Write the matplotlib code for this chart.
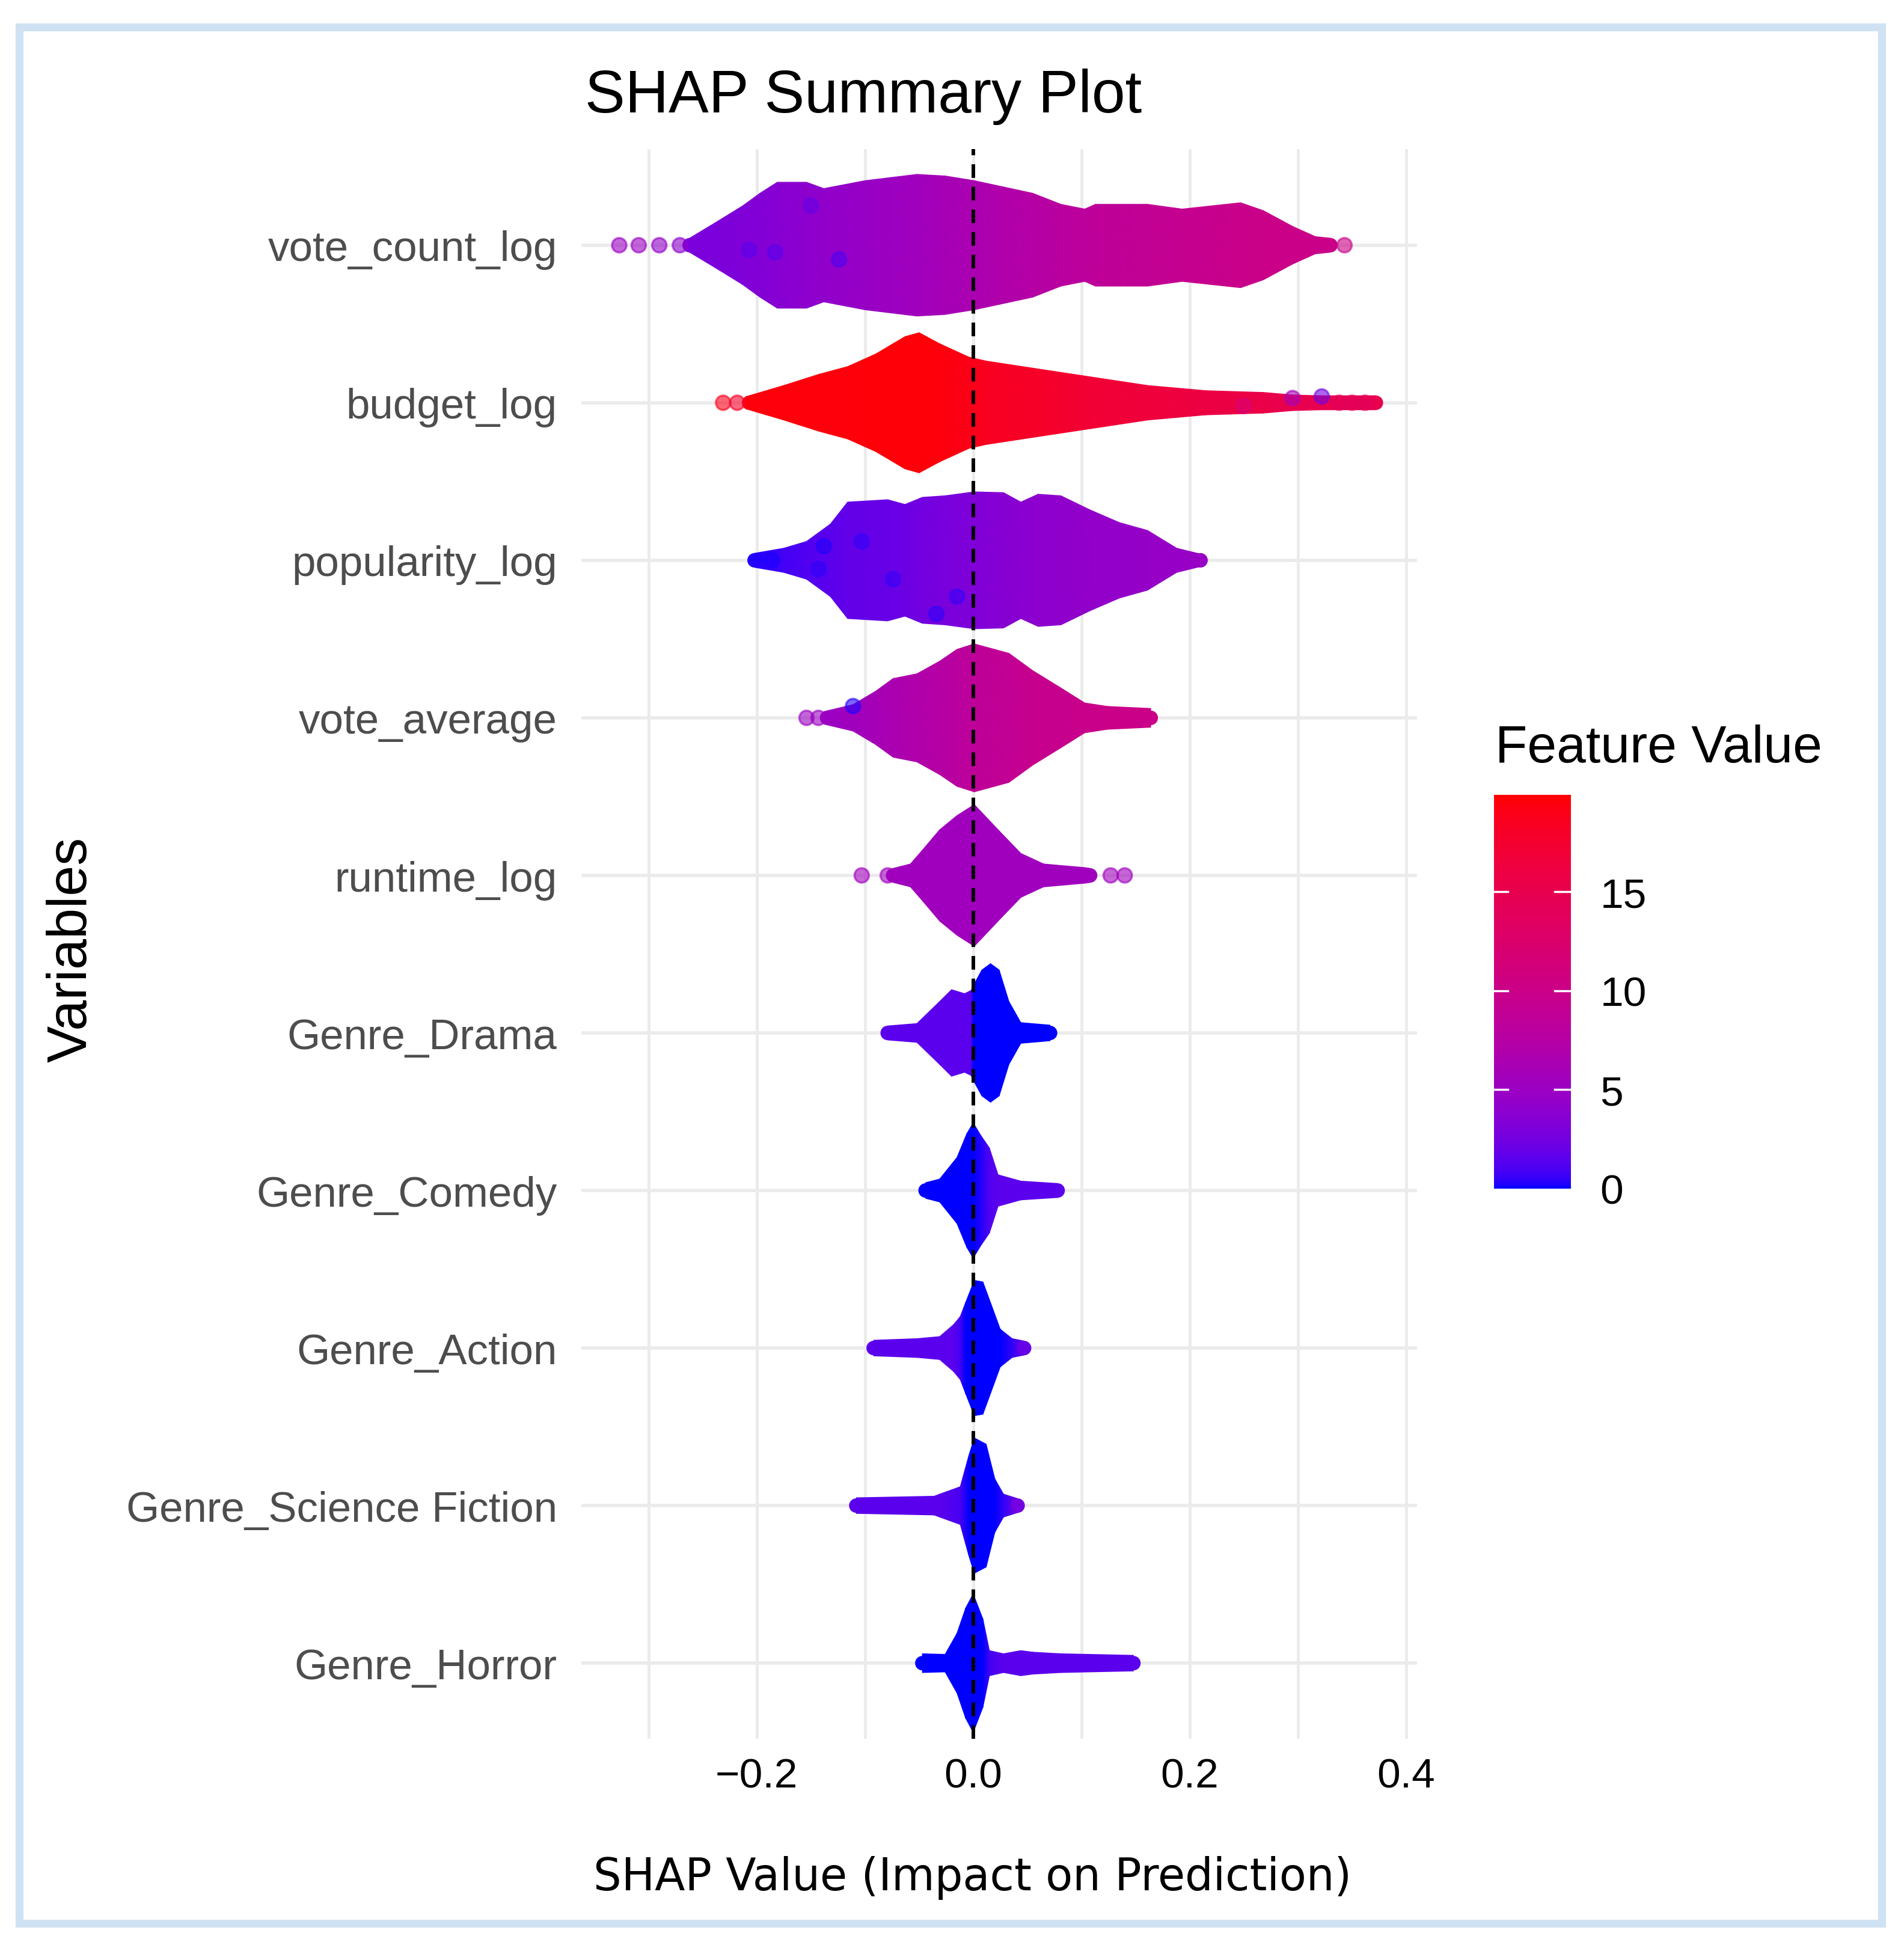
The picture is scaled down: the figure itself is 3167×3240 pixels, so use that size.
import matplotlib
matplotlib.use("Agg")
import matplotlib.pyplot as plt
import numpy as np
from matplotlib.colors import ListedColormap, Normalize
from matplotlib.patches import Rectangle
from matplotlib.cm import ScalarMappable

plt.rcParams['font.family'] = ['Liberation Sans', 'DejaVu Sans']

# ---- data ----
features = ['vote_count_log', 'budget_log', 'popularity_log', 'vote_average',
            'runtime_log', 'Genre_Drama', 'Genre_Comedy', 'Genre_Action',
            'Genre_Science Fiction', 'Genre_Horror']

# outline of each swarm: shap value, half height (row units), feature value (colour)
vc_x = [-0.262, -0.239, -0.213, -0.197, -0.181, -0.154, -0.138, -0.100, -0.052, -0.026, 0.001, 0.028,
        0.055, 0.081, 0.103, 0.113, 0.161, 0.193, 0.220, 0.247, 0.268, 0.295, 0.316, 0.330]
vc_hw = [0.045, 0.14, 0.25, 0.33, 0.40, 0.40, 0.36, 0.41, 0.45, 0.44, 0.41, 0.37,
         0.33, 0.26, 0.23, 0.26, 0.26, 0.23, 0.25, 0.27, 0.22, 0.12, 0.055, 0.045]
vc_val = [3.0, 3.0, 3.2, 3.4, 3.6, 4.0, 4.3, 4.8, 5.5, 6.0, 6.5, 7.0,
          7.5, 8.0, 8.3, 8.5, 9.0, 9.3, 9.6, 9.8, 10.0, 10.0, 10.0, 10.0]

bu_x = [-0.207, -0.175, -0.143, -0.116, -0.090, -0.063, -0.050, -0.031, -0.004, 0.012, 0.055, 0.108,
        0.161, 0.215, 0.268, 0.295, 0.322, 0.372]
bu_hw = [0.045, 0.11, 0.18, 0.23, 0.31, 0.42, 0.445, 0.375, 0.29, 0.265, 0.22, 0.165,
         0.11, 0.077, 0.066, 0.05, 0.045, 0.045]
bu_val = [19.5, 19.5, 19.5, 19.5, 19.6, 19.6, 19.6, 19.5, 19.0, 18.5, 18.0, 17.0,
          16.5, 16.0, 15.5, 15.0, 15.0, 15.0]

po_x = [-0.202, -0.175, -0.154, -0.132, -0.116, -0.079, -0.063, -0.047, -0.026, 0.001, 0.028, 0.044,
        0.060, 0.081, 0.108, 0.135, 0.161, 0.188, 0.210]
po_hw = [0.045, 0.077, 0.12, 0.23, 0.37, 0.385, 0.355, 0.40, 0.41, 0.435, 0.43, 0.37,
         0.42, 0.41, 0.32, 0.24, 0.19, 0.077, 0.04]
po_val = [0.3, 0.8, 1.2, 1.5, 1.8, 2.0, 2.2, 2.5, 2.8, 3.2, 3.6, 3.8,
          4.0, 4.2, 4.4, 4.5, 4.6, 4.7, 4.8]

va_x = [-0.135, -0.111, -0.090, -0.074, -0.052, -0.031, -0.015, 0.001, 0.033, 0.055, 0.081, 0.103,
        0.124, 0.164]
va_hw = [0.045, 0.084, 0.17, 0.25, 0.28, 0.36, 0.435, 0.47, 0.41, 0.30, 0.19, 0.095,
         0.073, 0.06]
va_val = [5.0, 5.5, 6.0, 6.5, 7.0, 7.5, 8.0, 8.5, 9.0, 9.5, 9.5, 9.8, 10.0, 10.0]

ru_x = [-0.074, -0.058, -0.047, -0.031, -0.015, 0.001, 0.023, 0.044, 0.065, 0.103, 0.108]
ru_hw = [0.045, 0.073, 0.16, 0.29, 0.38, 0.45, 0.29, 0.14, 0.073, 0.05, 0.045]
ru_val = [5.5, 5.5, 5.5, 5.5, 5.5, 5.5, 5.5, 5.5, 5.5, 5.5, 5.5]

dr_x = [-0.079, -0.052, -0.031, -0.020, -0.008, -0.002, 0.0, 0.008, 0.016, 0.024, 0.033, 0.044, 0.071]
dr_hw = [0.045, 0.06, 0.20, 0.275, 0.25, 0.27, 0.30, 0.40, 0.44, 0.40, 0.20, 0.066, 0.05]
dr_val = [1.5, 1.5, 1.5, 1.5, 1.5, 1.5, 0, 0, 0, 0, 0, 0, 0]

co_x = [-0.044, -0.031, -0.015, -0.006, 0.0, 0.007, 0.015, 0.023, 0.044, 0.078]
co_hw = [0.05, 0.073, 0.21, 0.36, 0.43, 0.35, 0.27, 0.10, 0.06, 0.045]
co_val = [0, 0, 0, 0, 0, 0.3, 1.2, 1.5, 1.5, 1.5]

ac_x = [-0.092, -0.052, -0.031, -0.018, -0.012, -0.007, 0.001, 0.009, 0.017, 0.025, 0.036, 0.047]
ac_hw = [0.05, 0.06, 0.073, 0.15, 0.20, 0.29, 0.43, 0.42, 0.27, 0.12, 0.06, 0.045]
ac_val = [1.5, 1.5, 1.5, 1.5, 0.8, 0, 0, 0, 0, 0, 0.5, 2.0]

sf_x = [-0.108, -0.036, -0.031, -0.012, -0.004, 0.001, 0.012, 0.020, 0.028, 0.041]
sf_hw = [0.05, 0.06, 0.073, 0.12, 0.32, 0.43, 0.39, 0.17, 0.073, 0.045]
sf_val = [1.5, 1.5, 1.5, 1.0, 0, 0, 0, 0, 0.5, 2.5]

ho_x = [-0.047, -0.026, -0.015, -0.007, 0.0, 0.009, 0.015, 0.028, 0.044, 0.055, 0.081, 0.148]
ho_hw = [0.06, 0.056, 0.19, 0.35, 0.44, 0.28, 0.08, 0.06, 0.08, 0.07, 0.06, 0.05]
ho_val = [0, 0, 0, 0, 0, 0, 0.8, 1.5, 1.5, 1.5, 1.5, 1.5]

# single visible points: row index, shap value, vertical offset (row units), feature value
pt_row = [0, 0, 0, 0, 0, 0, 0, 0, 0,
          1, 1, 1, 1, 1, 1, 1, 1,
          2, 2, 2, 2, 2, 2, 2,
          3, 3, 3,
          4, 4, 4, 4]
pt_x = [-0.327, -0.309, -0.290, -0.271, -0.207, -0.183, -0.124, 0.343, -0.150,
        -0.231, -0.218, 0.295, 0.322, 0.338, 0.350, 0.362, 0.250,
        -0.186, -0.138, -0.143, -0.103, -0.074, -0.034, -0.015,
        -0.154, -0.143, -0.111,
        -0.103, -0.079, 0.127, 0.140]
pt_dy = [0, 0, 0, 0, 0.03, 0.045, 0.09, 0, -0.25,
         0, 0, -0.03, -0.04, 0, 0, 0, 0.02,
         0, -0.09, 0.055, -0.12, 0.12, 0.34, 0.23,
         0, 0, -0.075,
         0, 0, 0, 0]
pt_val = [5, 5, 4.5, 4, 1.5, 1.5, 1.2, 10, 2,
          19, 18, 6, 2.5, 14, 14, 14, 12,
          0.2, 0.3, 0.4, 0.5, 0.6, 0.5, 0.6,
          5, 5, 0.3,
          5.5, 5.5, 5.5, 5.5]

cbar_ticks = [0, 5, 10, 15]
val_min, val_max = 0, 19.9


# ggplot-like blue -> red gradient in Lab space
M = np.array([[0.4124, 0.3576, 0.1805], [0.2126, 0.7152, 0.0722], [0.0193, 0.1192, 0.9505]])
WHITE = np.array([0.95047, 1.0, 1.08883])


def to_lab(c):
    c = np.asarray(c, float)
    lin = np.where(c <= 0.04045, c / 12.92, ((c + 0.055) / 1.055) ** 2.4)
    xyz = M @ lin / WHITE
    f = np.where(xyz > 0.008856, np.cbrt(xyz), 7.787 * xyz + 16 / 116)
    return np.array([116 * f[1] - 16, 500 * (f[0] - f[1]), 200 * (f[1] - f[2])])


def to_rgb(lab):
    L, a, b = lab
    fy = (L + 16) / 116
    f = np.array([fy + a / 500, fy, fy - b / 200])
    xyz = np.where(f ** 3 > 0.008856, f ** 3, (f - 16 / 116) / 7.787) * WHITE
    lin = np.clip(np.linalg.inv(M) @ xyz, 0, 1)
    c = np.where(lin <= 0.0031308, 12.92 * lin, 1.055 * lin ** (1 / 2.4) - 0.055)
    return np.clip(c, 0, 1)


lab_lo, lab_hi = to_lab([0, 0, 1]), to_lab([1, 0, 0])
cmap = ListedColormap([to_rgb(lab_lo + t * (lab_hi - lab_lo)) for t in np.linspace(0, 1, 256)])
norm = Normalize(val_min, val_max)

W, H = 3167, 3241
fig = plt.figure(figsize=(W / 100, H / 100), dpi=100)
fig.patch.set_facecolor('white')

# light blue frame round the whole picture
fig.patches.append(Rectangle((32 / W, 1 - 3200 / H), (3130 - 32) / W, (3200 - 46) / H,
                             transform=fig.transFigure, fill=False, ec='#CFE2F3', lw=9.5))

ax = fig.add_axes([967 / W, 1 - 2893 / H, (2357 - 967) / W, (2893 - 249) / H])

rows = [(vc_x, vc_hw, vc_val), (bu_x, bu_hw, bu_val), (po_x, po_hw, po_val),
        (va_x, va_hw, va_val), (ru_x, ru_hw, ru_val), (dr_x, dr_hw, dr_val),
        (co_x, co_hw, co_val), (ac_x, ac_hw, ac_val), (sf_x, sf_hw, sf_val),
        (ho_x, ho_hw, ho_val)]

for i, (xs, hw, vals) in enumerate(rows):
    xs = np.array(xs)
    hw = np.array(hw)
    vals = np.array(vals, float)
    X = np.vstack([xs, xs])
    Y = np.vstack([i - hw, i + hw])
    C = np.vstack([vals, vals])
    ax.pcolormesh(X, Y, C, shading='gouraud', cmap=cmap, norm=norm, zorder=2)
    # rounded ends of the swarm
    ax.scatter([xs[0], xs[-1]], [i, i], c=[vals[0], vals[-1]], cmap=cmap, norm=norm,
               s=300, linewidths=0, zorder=2.5)

ax.scatter(pt_x, np.array(pt_row) + np.array(pt_dy), c=pt_val, cmap=cmap, norm=norm,
           s=300, alpha=0.6, linewidths=2.5, edgecolors='face', zorder=3)

ax.axvline(0, color='black', lw=4.3, ls=(0, (3.8, 2.5)), zorder=5)

ax.set_xlim(-0.362, 0.41)
ax.set_ylim(9.48, -0.61)
ax.set_xticks([-0.2, 0.0, 0.2, 0.4])
ax.set_xticks([-0.3, -0.1, 0.1, 0.3], minor=True)
ax.set_xticklabels(['\u22120.2', '0.0', '0.2', '0.4'], fontsize=50, color='black')
ax.set_yticks(range(len(features)))
ax.set_yticklabels(features, fontsize=51, color='#4D4D4D')
ax.tick_params(axis='both', which='both', length=0)
ax.tick_params(axis='x', pad=22)
ax.tick_params(axis='y', pad=29)
ax.grid(which='both', axis='x', color='#EBEBEB', lw=3.5)
ax.grid(which='major', axis='y', color='#EBEBEB', lw=4.0)
ax.set_axisbelow(True)
for s in ax.spines.values():
    s.set_visible(False)

fig.text(973 / W, 1 - 187 / H, 'SHAP Summary Plot', fontsize=72, ha='left', va='baseline')
fig.text(1618 / W, 1 - 3144 / H, 'SHAP Value (Impact on Prediction)', fontsize=53,
         family='DejaVu Sans', ha='center', va='baseline')
fig.text(120 / W, 1 - 1580 / H, 'Variables', fontsize=66, rotation=90, ha='center', va='center')

# colour legend
fig.text(2487 / W, 1 - 1268 / H, 'Feature Value', fontsize=63, ha='left', va='baseline')
cax = fig.add_axes([2485 / W, 1 - 1978 / H, 128 / W, 655 / H])
cb = fig.colorbar(ScalarMappable(norm=norm, cmap=cmap), cax=cax)
cb.outline.set_visible(False)
cb.set_ticks(cbar_ticks)
cax.tick_params(length=0, pad=35, labelsize=50)
for t in cbar_ticks[1:]:
    cax.axhline(t, xmin=0, xmax=0.18, color='white', lw=2.5)
    cax.axhline(t, xmin=0.79, xmax=1, color='white', lw=2.5)

fig.savefig('out.png', dpi=100, facecolor='white')
